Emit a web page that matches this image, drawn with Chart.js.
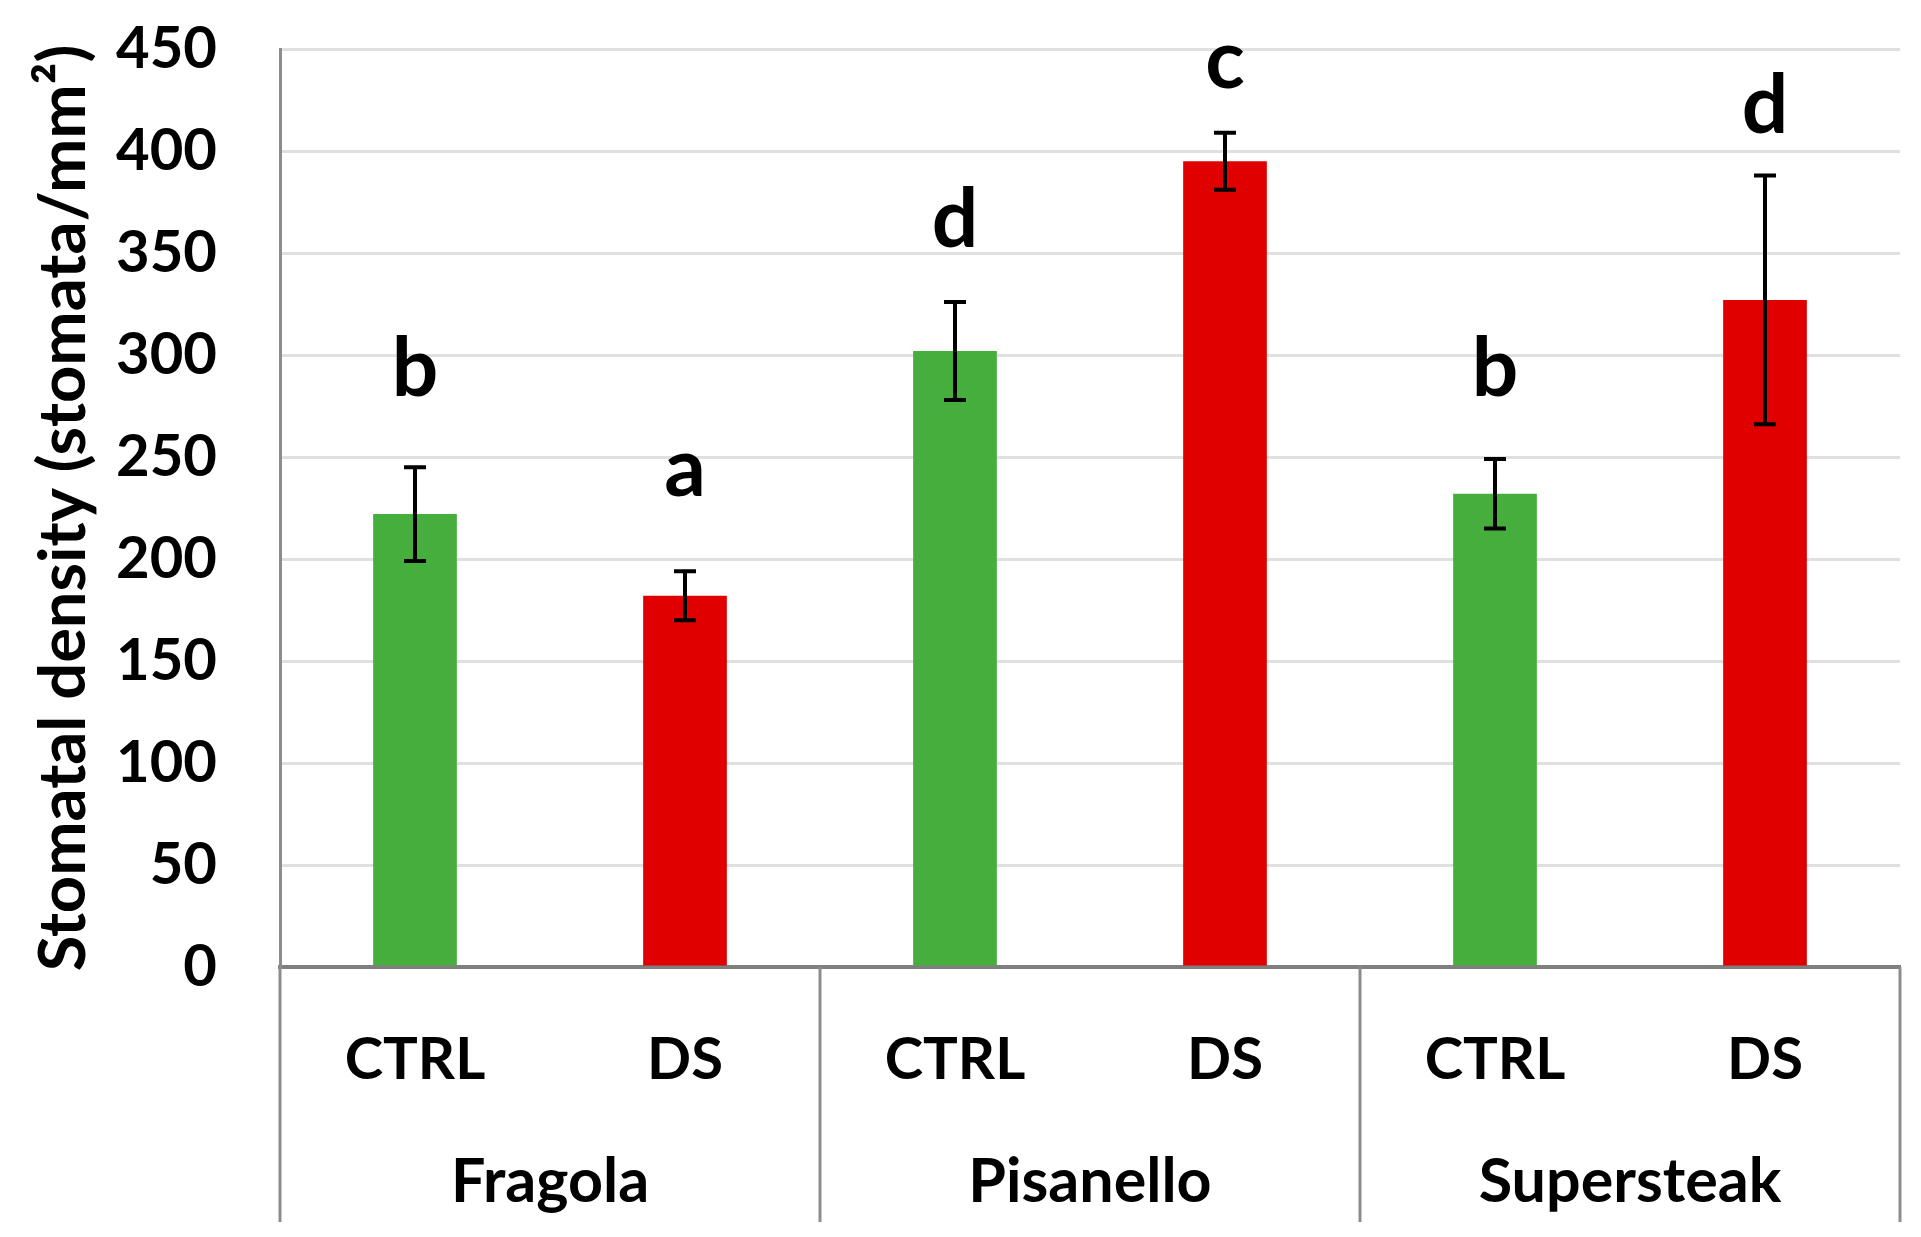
<!DOCTYPE html>
<html>
<head>
<meta charset="utf-8">
<script src="https://cdn.jsdelivr.net/npm/chart.js@4.4.1/dist/chart.umd.min.js"></script>
<style>
  html, body { margin: 0; padding: 0; background: #fff; }
  #chart { display: block; }
</style>
</head>
<body>
<canvas id="chart" width="1921" height="1237"></canvas>
<script>
// data
const cultivars = ['Fragola', 'Pisanello', 'Supersteak'];
const treatments = ['CTRL', 'DS', 'CTRL', 'DS', 'CTRL', 'DS'];
const density = [222, 182, 302, 395, 232, 327];
const densityErr = [23, 12, 24, 14, 17, 61];
const letters = ['b', 'a', 'd', 'c', 'b', 'd'];
const letterAt = [280, 231, 353, 431, 280, 409];
const yMax = 450;
const yStep = 50;

const GREEN = '#45ae3c';
const RED = '#e00000';
const FONT = 'Lato';

// error bars + significance letters
const errorBars = {
    id: 'errorBars',
    afterDatasetsDraw(chart) {
        const ctx = chart.ctx;
        const y = chart.scales.y;
        const bars = chart.getDatasetMeta(0).data;
        ctx.save();
        ctx.strokeStyle = '#000';
        ctx.lineWidth = 4;
        bars.forEach((bar, i) => {
            const top = y.getPixelForValue(density[i] + densityErr[i]);
            const bot = y.getPixelForValue(density[i] - densityErr[i]);
            ctx.beginPath();
            ctx.moveTo(bar.x, top);
            ctx.lineTo(bar.x, bot);
            ctx.moveTo(bar.x - 11, top);
            ctx.lineTo(bar.x + 11, top);
            ctx.moveTo(bar.x - 11, bot);
            ctx.lineTo(bar.x + 11, bot);
            ctx.stroke();
        });
        ctx.fillStyle = '#000';
        ctx.font = 'bold 82px ' + FONT;
        ctx.textAlign = 'center';
        ctx.textBaseline = 'alphabetic';
        bars.forEach((bar, i) => {
            ctx.fillText(letters[i], bar.x, y.getPixelForValue(letterAt[i]));
        });
        ctx.restore();
    }
};

// second level of the x axis: separators and cultivar names
const groupAxis = {
    id: 'groupAxis',
    afterDraw(chart) {
        const ctx = chart.ctx;
        const x = chart.scales.x;
        const area = chart.chartArea;
        const bottom = 1222;
        ctx.save();
        ctx.strokeStyle = '#8c8c8c';
        ctx.lineWidth = 3;
        [-0.5, 1.5, 3.5, 5.5].forEach(v => {
            const px = Math.round(x.getPixelForValue(v));
            ctx.beginPath();
            ctx.moveTo(px, area.bottom);
            ctx.lineTo(px, bottom);
            ctx.stroke();
        });
        ctx.fillStyle = '#000';
        ctx.font = 'bold 61px ' + FONT;
        ctx.textAlign = 'center';
        ctx.textBaseline = 'alphabetic';
        cultivars.forEach((name, g) => {
            ctx.fillText(name, x.getPixelForValue(g * 2 + 0.5), 1202);
        });
        ctx.restore();
    }
};

new Chart(document.getElementById('chart'), {
    type: 'bar',
    data: {
        labels: treatments,
        datasets: [{
            data: density,
            backgroundColor: treatments.map(t => t === 'CTRL' ? GREEN : RED),
            categoryPercentage: 1,
            barPercentage: 0.31
        }]
    },
    options: {
        responsive: false,
        animation: false,
        devicePixelRatio: 1,
        layout: { padding: { top: 49, right: 21, left: 0, bottom: 0 } },
        plugins: {
            legend: { display: false },
            tooltip: { enabled: false }
        },
        scales: {
            x: {
                afterFit(scale) { scale.height = 270; },
                grid: { display: false },
                border: { display: true, color: '#7f7f7f', width: 4 },
                ticks: {
                    color: '#000',
                    padding: 50,
                    font: { family: FONT, size: 58, weight: 'bold' }
                }
            },
            y: {
                min: 0,
                max: yMax,
                afterFit(scale) {
                    scale.width = 280;
                    // tick padding is meant horizontally only
                    scale.paddingTop = 0;
                    scale.paddingBottom = 0;
                },
                grid: { color: '#e0e0e0', lineWidth: 3, drawTicks: false },
                border: { display: true, color: '#8c8c8c', width: 3 },
                ticks: {
                    stepSize: yStep,
                    color: '#000',
                    padding: 63,
                    font: { family: FONT, size: 58, weight: 'bold' }
                },
                title: {
                    display: true,
                    text: 'Stomatal density (stomata/mm²)',
                    color: '#000',
                    padding: { top: 25 },
                    font: { family: FONT, size: 65, weight: 'bold' }
                }
            }
        }
    },
    plugins: [errorBars, groupAxis]
});
</script>
</body>
</html>
